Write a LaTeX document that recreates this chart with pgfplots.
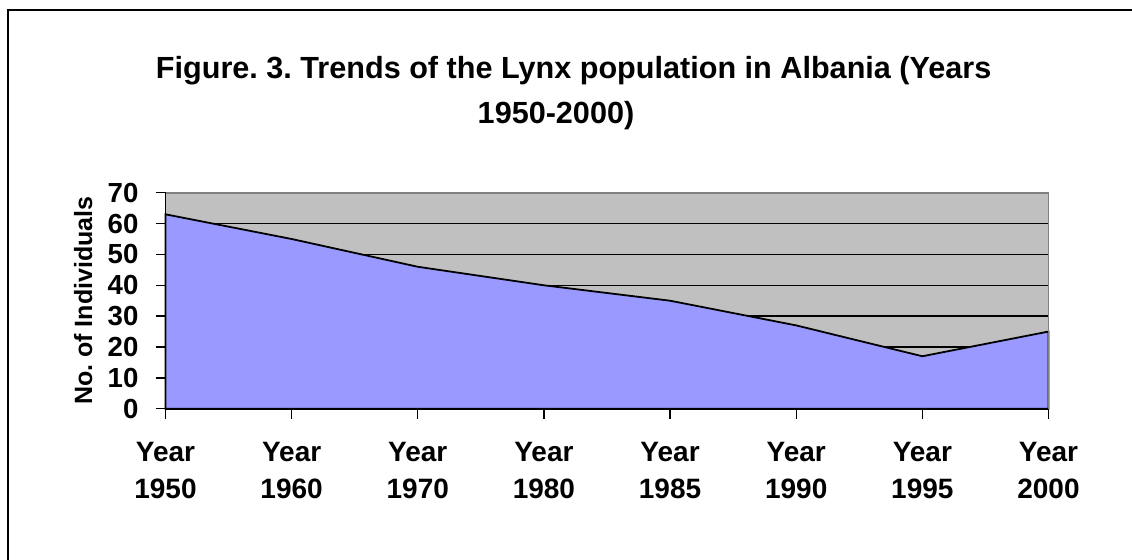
\documentclass[border=0pt]{standalone}
\usepackage{fontspec}
\setmainfont{Liberation Sans}
\usepackage{pgfplots}
\pgfplotsset{compat=1.18}
\definecolor{bggray}{HTML}{C0C0C0}
\definecolor{areablue}{HTML}{9999FF}
\definecolor{bordergray}{HTML}{808080}
\frenchspacing
\begin{document}
\begin{tikzpicture}
\useasboundingbox (0,0) rectangle (566pt,-279.5pt);
\draw[line width=1pt] (4pt,-5pt) rectangle (620pt,-320pt);
\node[anchor=base, font=\fontsize{15.3}{18}\selectfont\bfseries, inner sep=0pt] at (286.8pt,-39pt) {Figure. 3. Trends of the Lynx population in Albania (Years};
\node[anchor=base, font=\fontsize{15.3}{18}\selectfont\bfseries, inner sep=0pt] at (278pt,-61.8pt) {1950-2000)};
\node[anchor=base, rotate=90, font=\fontsize{12.5}{15}\selectfont\bfseries, inner sep=0pt] at (46pt,-150.3pt) {No. of Individuals};
\begin{axis}[
  at={(82.75pt,-204.35pt)}, anchor=south west,
  scale only axis, width=441.5pt, height=108pt,
  xmin=0, xmax=7, ymin=0, ymax=70,
  axis background/.style={fill=bggray},
  axis x line*=bottom, axis y line*=left,
  axis line style={black, line width=0.8pt, -},
  ytick={0,10,...,70},
  ymajorgrids, grid style={black, line width=0.65pt},
  xtick={0,...,7},
  xticklabels={{Year\\1950},{Year\\1960},{Year\\1970},{Year\\1980},{Year\\1985},{Year\\1990},{Year\\1995},{Year\\2000}},
  tick align=outside, major tick length=5pt,
  tick style={black, line width=0.7pt},
  /pgf/number format/assume math mode=true,
  x tick label style={align=center, font=\fontsize{14}{18.5}\selectfont\bfseries, yshift=-8pt},
  y tick label style={font=\fontsize{13.8}{15}\selectfont\bfseries, xshift=-5pt},
  clip=false,
]
\addplot[draw=black, line width=0.9pt, fill=areablue] coordinates {
(0,63) (1,55) (2,46) (3,40) (4,35) (5,27) (6,17) (7,25)
} \closedcycle;
\draw[bordergray, line width=0.8pt] (rel axis cs:0,1) -- (rel axis cs:1,1) -- (rel axis cs:1,0);
\end{axis}
\end{tikzpicture}
\end{document}
